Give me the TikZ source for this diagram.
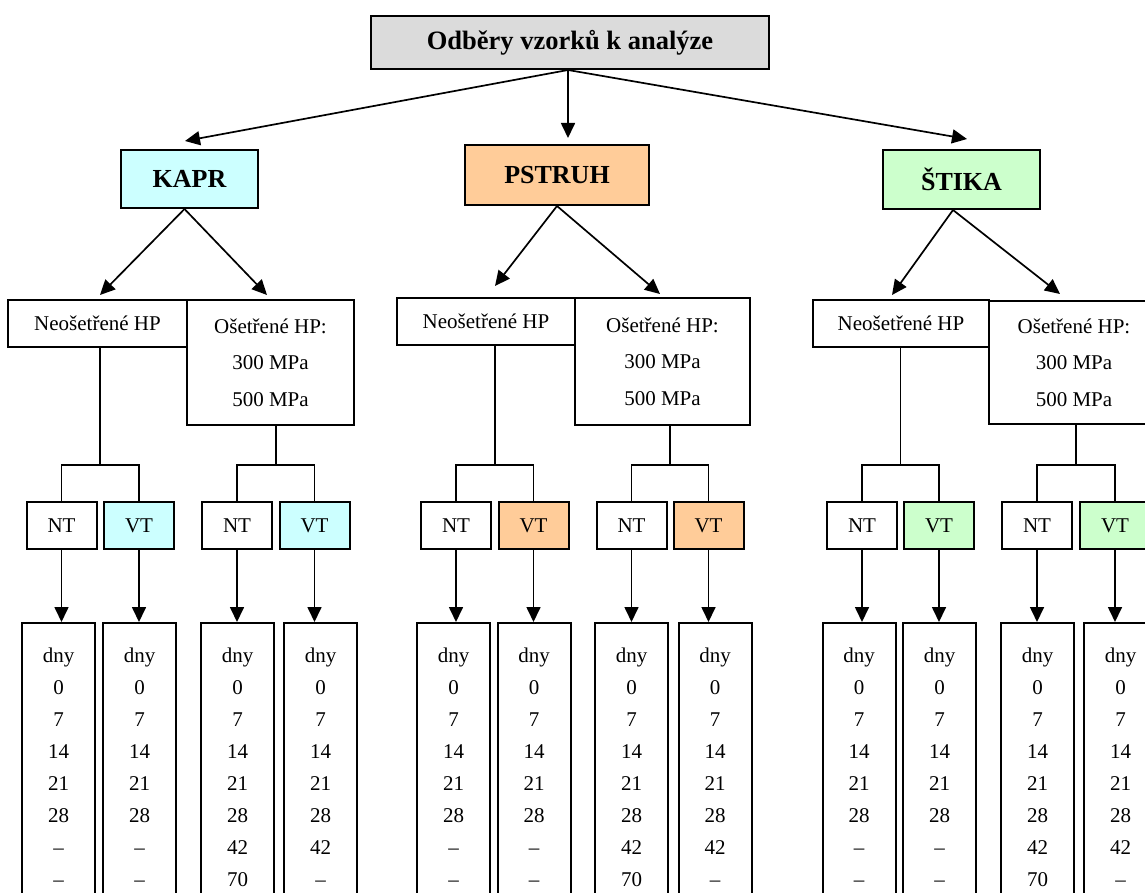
\documentclass[tikz,border=0pt]{standalone}
\usepackage{fontspec}
\setmainfont{Liberation Serif}
\usetikzlibrary{arrows.meta,calc}
\definecolor{titlegray}{RGB}{219,219,219}
\definecolor{kaprcyan}{RGB}{204,255,255}
\definecolor{pstruhpeach}{RGB}{255,204,153}
\definecolor{stikagreen}{RGB}{204,255,204}
\begin{document}
\begin{tikzpicture}[x=1pt,y=-1pt,
  box/.style={draw, line width=2pt, inner sep=0pt, align=center},
  fishbox/.style={box, font=\fontsize{26}{30}\selectfont\bfseries},
  hpbox/.style={box, font=\fontsize{21}{36.5}\selectfont},
  tbox/.style={box, font=\fontsize{21}{25}\selectfont, minimum width=70pt, minimum height=47pt},
  daybox/.style={box, anchor=north, font=\fontsize{21}{32}\selectfont, minimum width=73pt, minimum height=288pt},
  conn/.style={line width=1.7pt},
  arr/.style={conn, -{Triangle[length=15pt,width=14pt]}},
]
\useasboundingbox (0,0) rectangle (1145,893);
\clip (0,0) rectangle (1145,893);

% title and fish
\node[box, fill=titlegray, minimum width=398pt, minimum height=53pt, font=\fontsize{26.5}{30}\selectfont\bfseries] (title) at (570,42.5) {Odběry vzorků k analýze};
\node[fishbox, fill=kaprcyan, minimum width=137pt, minimum height=58pt] (kapr) at (189.5,179) {KAPR};
\node[fishbox, fill=pstruhpeach, minimum width=184pt, minimum height=60pt] (pstruh) at (557,175) {PSTRUH};
\node[fishbox, fill=stikagreen, minimum width=157pt, minimum height=59pt] (stika) at (961.5,179.5) {ŠTIKA};

% HP boxes
\node[hpbox, minimum width=179pt, minimum height=47pt] (kneo) at (97.5,323.5) {Neošetřené HP};
\node[hpbox, minimum width=167pt, minimum height=125pt] (kos) at (270.5,362.5) {Ošetřené HP:\\300 MPa\\500 MPa};
\node[hpbox, minimum width=178pt, minimum height=47pt] (pneo) at (486,321.5) {Neošetřené HP};
\node[hpbox, minimum width=175pt, minimum height=127pt] (pos) at (662.5,361.5) {Ošetřené HP:\\300 MPa\\500 MPa};
\node[hpbox, minimum width=176pt, minimum height=47pt] (sneo) at (901,323.5) {Neošetřené HP};
\node[hpbox, minimum width=170pt, minimum height=123pt] (sos) at (1074,362.5) {Ošetřené HP:\\300 MPa\\500 MPa};

% NT / VT boxes
\node[tbox] (knt1) at (61.5,525.5) {NT};
\node[tbox, fill=kaprcyan] (kvt1) at (139,525.5) {VT};
\node[tbox] (knt2) at (237,525.5) {NT};
\node[tbox, fill=kaprcyan] (kvt2) at (314.5,525.5) {VT};
\node[tbox] (pnt1) at (456,525.5) {NT};
\node[tbox, fill=pstruhpeach] (pvt1) at (533.5,525.5) {VT};
\node[tbox] (pnt2) at (631.5,525.5) {NT};
\node[tbox, fill=pstruhpeach] (pvt2) at (708.5,525.5) {VT};
\node[tbox] (snt1) at (862,525.5) {NT};
\node[tbox, fill=stikagreen] (svt1) at (939,525.5) {VT};
\node[tbox] (snt2) at (1037,525.5) {NT};
\node[tbox, fill=stikagreen] (svt2) at (1115,525.5) {VT};

% day boxes
\node[daybox] (kd1) at (58.5,622) {dny\\0\\7\\14\\21\\28\\–\\–};
\node[daybox] (kd2) at (139.5,622) {dny\\0\\7\\14\\21\\28\\–\\–};
\node[daybox] (kd3) at (237.5,622) {dny\\0\\7\\14\\21\\28\\42\\70};
\node[daybox] (kd4) at (320.5,622) {dny\\0\\7\\14\\21\\28\\42\\–};
\node[daybox] (pd1) at (453.5,622) {dny\\0\\7\\14\\21\\28\\–\\–};
\node[daybox] (pd2) at (534,622) {dny\\0\\7\\14\\21\\28\\–\\–};
\node[daybox] (pd3) at (631.5,622) {dny\\0\\7\\14\\21\\28\\42\\70};
\node[daybox] (pd4) at (715,622) {dny\\0\\7\\14\\21\\28\\42\\–};
\node[daybox] (sd1) at (859,622) {dny\\0\\7\\14\\21\\28\\–\\–};
\node[daybox] (sd2) at (939.5,622) {dny\\0\\7\\14\\21\\28\\–\\–};
\node[daybox] (sd3) at (1037.5,622) {dny\\0\\7\\14\\21\\28\\42\\70};
\node[daybox] (sd4) at (1120.5,622) {dny\\0\\7\\14\\21\\28\\42\\–};

% top arrows
\coordinate (ts) at ([xshift=-2pt]title.south);
\draw[arr] (ts) -- ([xshift=-4.5pt,yshift=8pt]kapr.north);
\draw[arr] (ts) -- ([xshift=11pt,yshift=6pt]pstruh.north);
\draw[arr] (ts) -- ([xshift=5.5pt,yshift=10pt]stika.north);

% fish to HP arrows
\draw[arr] ([xshift=-5pt]kapr.south) -- ([xshift=2.5pt,yshift=4pt]kneo.north);
\draw[arr] ([xshift=-5pt]kapr.south) -- ([xshift=-3.5pt,yshift=4pt]kos.north);
\draw[arr] (pstruh.south) -- ([xshift=9pt,yshift=11pt]pneo.north);
\draw[arr] (pstruh.south) -- ([xshift=-2.5pt,yshift=3pt]pos.north);
\draw[arr] ([xshift=-8.5pt]stika.south) -- ([xshift=-9pt,yshift=4pt]sneo.north);
\draw[arr] ([xshift=-8.5pt]stika.south) -- ([xshift=-14pt,yshift=6pt]sos.north);

% brackets
\coordinate (yb) at (0,465);
\foreach \g/\h in {k/kneo,p/pneo,s/sneo} {
  \coordinate (\g m1) at ($(\g nt1.north)!0.5!(\g vt1.north)$);
  \draw[conn] (\g m1 |- \h.south) -- (\g m1 |- yb);
  \draw[conn] (\g nt1.north) -- (\g nt1.north |- yb) -- (\g vt1.north |- yb) -- (\g vt1.north);
}
\foreach \g/\h in {k/kos,p/pos,s/sos} {
  \coordinate (\g m2) at ($(\g nt2.north)!0.5!(\g vt2.north)$);
  \draw[conn] (\g m2 |- \h.south) -- (\g m2 |- yb);
  \draw[conn] (\g nt2.north) -- (\g nt2.north |- yb) -- (\g vt2.north |- yb) -- (\g vt2.north);
}

% NT/VT to day arrows
\foreach \a/\b in {knt1/kd1,kvt1/kd2,knt2/kd3,kvt2/kd4,pnt1/pd1,pvt1/pd2,pnt2/pd3,pvt2/pd4,snt1/sd1,svt1/sd2,snt2/sd3,svt2/sd4} {
  \draw[arr] (\a.south) -- (\a.south |- \b.north);
}
\end{tikzpicture}
\end{document}
